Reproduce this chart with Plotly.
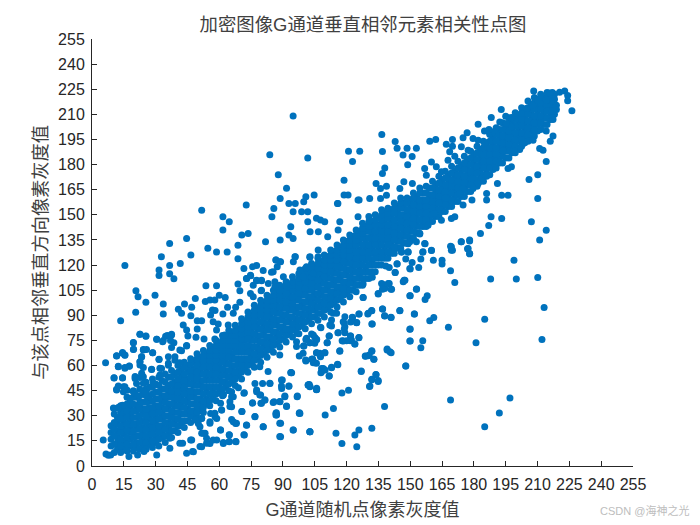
import plotly.graph_objects as go

title_text = "加密图像G通道垂直相邻元素相关性点图"
x_title = "G通道随机点像素灰度值"
y_title = "与该点相邻垂直方向像素灰度值"
watermark = "CSDN @海神之光"
tick_values = [0, 15, 30, 45, 60, 75, 90, 105, 120, 135, 150, 165, 180, 195, 210, 225, 240, 255]

# dense diagonal band, read column by column
band_x = [9, 12, 15, 18, 21, 24, 27, 30, 33, 36, 39, 42, 45, 48, 51, 54, 57, 60, 63, 66, 69, 72, 75, 78, 81, 84, 87, 90,
          93, 96, 99, 102, 105, 108, 111, 114, 117, 120, 123, 126, 129, 132, 135, 138, 141, 144, 147, 150, 153, 156,
          159, 162, 165, 168, 171, 174, 177, 180, 183, 186, 189, 192, 195, 198, 201, 204, 207, 210, 213, 216, 218]
band_y = [
    [12, 16, 20, 24], [10, 14, 17, 21, 25, 29], [11, 15, 19, 22, 26, 30, 34], [12, 16, 20, 23, 27, 31, 35, 38],
    [11, 14, 18, 22, 25, 29, 33, 36, 41], [12, 16, 20, 23, 27, 31, 34, 38, 43], [13, 17, 21, 24, 28, 32, 35, 39, 42, 47],
    [14, 18, 22, 25, 29, 33, 36, 40, 44, 49], [17, 21, 24, 28, 31, 35, 39, 42, 46, 51], [19, 23, 26, 30, 34, 37, 41, 45, 48, 53],
    [21, 25, 28, 32, 36, 39, 43, 47, 50, 55], [24, 27, 31, 35, 38, 42, 46, 49, 53, 57], [27, 31, 34, 38, 42, 45, 49, 52, 56, 60],
    [30, 33, 37, 41, 44, 48, 51, 55, 58, 62], [33, 37, 40, 44, 48, 51, 55, 58, 61, 65], [37, 40, 44, 47, 51, 54, 58, 61, 64, 67],
    [41, 44, 47, 51, 54, 58, 61, 64, 67, 70], [44, 47, 51, 54, 57, 61, 64, 67, 70, 73], [47, 50, 54, 57, 61, 64, 67, 70, 73, 76],
    [50, 54, 57, 60, 64, 67, 71, 74, 77, 79], [54, 57, 61, 64, 68, 71, 74, 77, 80, 82], [58, 61, 64, 68, 71, 75, 78, 81, 84, 86],
    [61, 65, 68, 71, 75, 78, 82, 85, 88, 90], [64, 68, 71, 75, 78, 82, 85, 89, 92, 94], [67, 71, 74, 78, 81, 85, 88, 92, 95, 97],
    [70, 74, 77, 81, 84, 88, 91, 95, 98, 100], [73, 77, 80, 84, 87, 91, 94, 98, 101, 103], [76, 80, 83, 87, 90, 94, 97, 101, 104, 106],
    [79, 82, 86, 89, 93, 96, 100, 103, 106, 108], [81, 85, 88, 92, 95, 99, 102, 105, 108, 110], [84, 88, 91, 95, 98, 102, 105, 108, 111, 113],
    [87, 91, 94, 98, 101, 105, 108, 111, 114, 117], [89, 93, 96, 100, 103, 107, 110, 113, 116, 119], [91, 95, 98, 102, 105, 109, 112, 115, 119, 122],
    [94, 98, 101, 105, 108, 112, 115, 118, 122, 125], [97, 101, 104, 108, 111, 115, 118, 121, 125, 128], [100, 104, 107, 111, 114, 118, 121, 124, 127, 130],
    [103, 107, 110, 114, 117, 121, 124, 127, 130, 134], [105, 109, 112, 116, 119, 123, 126, 130, 133, 137], [108, 112, 115, 119, 122, 126, 129, 133, 136, 140],
    [112, 116, 119, 123, 126, 130, 133, 136, 140, 143], [116, 120, 123, 127, 130, 134, 137, 140, 143, 146], [120, 124, 127, 131, 134, 138, 141, 144, 148],
    [124, 128, 131, 135, 138, 142, 145, 148, 151], [127, 131, 134, 138, 141, 145, 148, 150, 153], [130, 134, 137, 141, 144, 148, 151, 155],
    [133, 137, 140, 144, 147, 150, 154, 157], [136, 140, 143, 147, 150, 153, 156, 159], [139, 143, 146, 150, 153, 156, 158, 161],
    [143, 146, 150, 153, 156, 159, 163], [146, 149, 153, 156, 159, 162, 166], [149, 152, 156, 159, 162, 165, 168],
    [152, 155, 159, 162, 165, 168, 171], [155, 158, 162, 165, 168, 171, 174], [158, 161, 165, 168, 171, 174, 176],
    [161, 164, 168, 171, 174, 177, 179], [164, 168, 171, 174, 177, 180, 183], [167, 171, 174, 177, 180, 183, 186],
    [170, 174, 177, 180, 183, 186, 189], [173, 177, 180, 184, 187, 190, 193], [177, 181, 184, 188, 191, 194, 197],
    [181, 185, 188, 191, 195, 198, 201], [184, 188, 191, 195, 198, 201, 204], [187, 191, 194, 198, 201, 204, 207],
    [190, 194, 197, 200, 203, 206, 209], [193, 197, 200, 203, 206, 209, 212], [196, 200, 203, 207, 210, 213, 216],
    [200, 204, 207, 210, 214, 217, 219], [204, 208, 211, 214, 217, 220], [207, 211, 214, 217, 220, 222], [210, 213, 216, 219, 222],
]

# second reading of the band, between the columns above
fill_x = [10.5, 13.5, 16.5, 19.5, 22.5, 25.5, 28.5, 31.5, 34.5, 37.5, 40.5, 43.5, 46.5, 49.5, 52.5, 55.5, 58.5, 61.5, 64.5, 67.5,
          70.5, 73.5, 76.5, 79.5, 82.5, 85.5, 88.5, 91.5, 94.5, 97.5, 100.5, 103.5, 106.5, 109.5, 112.5, 115.5, 118.5, 121.5,
          124.5, 127.5, 130.5, 133.5, 136.5, 139.5, 142.5, 145.5, 148.5, 151.5, 154.5, 157.5, 160.5, 163.5, 166.5, 169.5,
          172.5, 175.5, 178.5, 181.5, 184.5, 187.5, 190.5, 193.5, 196.5, 199.5, 202.5, 205.5, 208.5, 211.5, 214.5, 217]
fill_y = [
    [8, 13, 18, 22, 26, 31], [8, 12, 16, 20, 24, 28, 32, 36], [9, 13, 17, 21, 25, 29, 33, 37, 41], [9, 13, 17, 21, 25, 29, 33, 37, 41, 45],
    [10, 14, 18, 22, 26, 30, 34, 38, 42, 46], [10, 14, 18, 22, 26, 30, 34, 38, 42, 46, 50], [11, 15, 19, 23, 27, 31, 35, 39, 43, 47, 52],
    [12, 16, 20, 24, 28, 32, 36, 40, 44, 48, 53], [14, 18, 22, 26, 30, 34, 38, 42, 46, 50, 55], [17, 21, 25, 29, 33, 37, 41, 45, 49, 53, 57],
    [20, 24, 28, 32, 36, 40, 44, 48, 52, 56, 60], [23, 27, 31, 35, 39, 43, 47, 51, 55, 59, 62], [26, 30, 33, 37, 41, 45, 49, 53, 57, 61, 64],
    [29, 32, 36, 40, 44, 48, 52, 56, 60, 64, 67], [32, 35, 39, 43, 47, 51, 55, 59, 63, 66, 69], [36, 39, 43, 47, 51, 55, 59, 63, 66, 69, 72],
    [39, 43, 47, 51, 55, 59, 63, 66, 69, 72, 75], [42, 46, 50, 54, 58, 62, 66, 69, 72, 75, 78], [45, 49, 53, 57, 61, 65, 69, 72, 75, 78, 81],
    [48, 52, 56, 60, 64, 68, 72, 75, 78, 81, 84], [52, 56, 60, 64, 68, 72, 76, 79, 82, 85, 88], [56, 60, 64, 68, 72, 76, 80, 83, 86, 89, 92],
    [59, 63, 67, 71, 75, 79, 83, 87, 90, 93, 96], [62, 66, 70, 74, 78, 82, 86, 90, 93, 96, 99], [65, 69, 73, 77, 81, 85, 89, 93, 96, 99, 102],
    [68, 72, 76, 80, 84, 88, 92, 96, 99, 102, 105], [71, 75, 79, 83, 87, 91, 95, 99, 102, 105, 108], [74, 78, 82, 86, 90, 94, 98, 102, 105, 108, 110],
    [77, 81, 85, 89, 93, 97, 101, 105, 108, 110, 113], [79, 83, 87, 91, 95, 99, 103, 107, 110, 112, 115], [82, 86, 90, 94, 98, 102, 106, 110, 113, 115, 118],
    [85, 89, 93, 97, 101, 105, 109, 113, 116, 119, 121], [87, 91, 95, 99, 103, 107, 111, 115, 118, 121, 124], [89, 93, 97, 101, 105, 109, 113, 117, 120, 123, 126],
    [92, 96, 100, 104, 108, 112, 116, 120, 123, 126, 129], [95, 99, 103, 107, 111, 115, 119, 123, 126, 129, 132], [98, 102, 106, 110, 114, 118, 122, 126, 129, 132, 135],
    [101, 105, 109, 113, 117, 121, 125, 129, 132, 135, 138], [104, 108, 112, 116, 120, 124, 128, 132, 135, 138, 141], [108, 112, 116, 120, 124, 128, 132, 136, 139, 142, 145],
    [112, 116, 120, 124, 128, 132, 136, 140, 143, 146, 149], [116, 120, 124, 128, 132, 136, 140, 144, 147, 150], [120, 124, 128, 132, 136, 140, 144, 147, 150, 153],
    [124, 128, 132, 136, 140, 144, 148, 151, 154], [127, 131, 135, 139, 143, 147, 151, 154, 157], [130, 134, 138, 142, 146, 150, 154, 157, 160],
    [133, 137, 141, 145, 149, 153, 157, 160], [136, 140, 144, 148, 152, 156, 160, 163], [139, 143, 147, 151, 155, 159, 163, 166],
    [143, 147, 151, 155, 159, 163, 167], [146, 150, 154, 158, 162, 166, 170], [149, 153, 157, 161, 165, 169, 173],
    [152, 156, 160, 164, 168, 172, 176], [155, 159, 163, 167, 171, 175, 179], [158, 162, 166, 170, 174, 178, 182],
    [161, 165, 169, 173, 177, 181, 185], [164, 168, 172, 176, 180, 184, 188], [167, 171, 175, 179, 183, 187, 191],
    [170, 174, 178, 182, 186, 190, 194], [174, 178, 182, 186, 190, 194, 198], [178, 182, 186, 190, 194, 198, 202],
    [181, 185, 189, 193, 197, 201, 205], [184, 188, 192, 196, 200, 204, 208], [187, 191, 195, 199, 203, 207, 211],
    [191, 195, 199, 203, 207, 211, 214], [194, 198, 202, 206, 210, 214, 218], [197, 201, 205, 209, 213, 217, 220],
    [201, 205, 209, 213, 217, 220, 222], [204, 208, 212, 216, 220, 223], [208, 212, 216, 220, 223],
]

# clumps along the band's edges at high grey levels
edge_x = [156.8, 160, 169.4, 169.4, 174.1, 178, 177.3, 178, 156, 145.9, 149,
          156.8, 157.6, 160, 162.3, 164.7, 167.8, 171, 168.6, 169.9, 174.1, 177.3, 179.6, 182, 185.1, 187.5, 189, 192.2, 195.3,
          197.7, 202.4, 204.7, 207.9, 210.2, 214.1, 218.9, 218.9,
          212.6, 211, 207.9, 203.2, 201.6, 199.2, 193.7, 197.7, 196.1, 192.2, 185.9, 183.5, 182, 179.6, 174.9, 173.3, 174.9,
          171, 169.4, 164.7, 161.5, 158.4, 154.5, 149.8]
edge_y = [132.9, 128.9, 130.9, 128.9, 133.9, 134.9, 129.9, 126.9, 127.9, 127.9, 127.9,
          177.7, 173.7, 181.6, 178.7, 175.7, 182.6, 185, 187.6, 191, 190.6, 188.6, 195.6, 194.6, 192.6, 198.6, 199.6, 205.5, 204.5,
          202.5, 210.5, 213.5, 215.5, 218.5, 218.5, 215.5, 212.9,
          188.6, 189.6, 194.6, 192.6, 189, 188, 188.2, 178.7, 177.7, 181.6, 173.7, 170.7, 168.7, 165.7, 165.7, 162.7, 155.8,
          148.8, 147.8, 146.8, 150.8, 143.8, 138.5, 133.9]

# clumps along the band's edges at low and middle grey levels
fringe_x = [85.4, 87.3, 88.9, 86.7, 86.2, 90.2, 91.7, 95.7, 94.9, 102.7, 106.6, 106.6, 72.9, 74.8, 77.6, 79.9, 76, 79.9, 83.1,
            86.2, 88.6, 91.7, 98, 101.1, 99.6, 104.3,
            127.8, 127.8, 134.9, 136.5, 140.1, 138, 141.2, 147.5, 146.7, 149.8, 153, 132.1, 142.9, 143.8, 138.5, 140.1, 149.8,
            125.8, 122.7, 121.9, 124.7, 119.2, 118.4, 119.2, 116.1, 119.2, 113.7, 112.9, 112.1, 115.3, 130.2, 131.8, 137, 138,
            140.9, 145.1, 151.9, 132.1, 107.9, 111.8, 110.9, 105.1, 103.5, 101.1, 102.7, 105.9, 99.9, 96.8, 96.4,
            125.8, 121.9, 122.3, 118.4, 123.9, 116.8, 105.9, 107.7, 109.8, 104, 105.1, 100.7, 97.7, 112.9, 109, 108.2, 115.7,
            111.8, 131.9, 130.7, 128.8, 132.9, 139.1, 141, 147.9, 126.9, 149.8, 149.8, 131.9, 133.8, 134.9, 131,
            101.9, 102.7, 105.9, 94.1,
            11.6, 14.4, 15.5, 12.4, 15.5, 17.6, 10.4, 14.4, 11.6, 14.8, 16.6, 19.5, 19.5, 22.6, 25.4, 24.2, 25.7, 28.6, 23.4,
            22.6, 24.2, 31.6, 30.5, 33.3, 34.7, 37.5, 38.6, 37.5, 42.2, 44.6, 36, 36, 39.1, 41.4, 32.8, 28.1, 20.3, 22.6, 24.2,
            21, 20.3, 25.7, 25, 10.4, 12.4, 14.4, 22.6,
            93.8, 89.7, 92.8, 89.4, 83.9, 80.4, 76.8, 102.4, 105.9, 96.8, 90.9, 88.6, 85.8, 81.5, 79.6, 91.7, 86.9, 87, 97.8,
            75.7, 71.8, 77.6, 79.5, 69, 61.9, 65.8, 66.6, 65, 65.8, 60.6, 61.1, 55.9, 58, 58.8, 55.6, 51.7, 50.9, 48.6,
            70.7, 76.8, 72.9, 80.7, 88.9, 94.9, 102.7, 88.9, 65.8, 67.7, 60.6, 64.7, 71.8, 67.9, 64.7, 61.9, 58.8, 55.6, 54,
            51.7, 53.3, 51.7, 47.8, 47, 50.1]
fringe_y = [116, 119, 122, 123, 110, 113, 109, 125, 122, 124.6, 129, 125, 112, 113.6, 111, 111, 108, 105, 109,
            107, 105, 103, 117, 119, 113, 115,
            108.7, 100.7, 103, 109, 109, 106, 105.5, 111, 110, 101.7, 105.7, 112.7, 115.6, 120.6, 119.4, 118.6, 118,
            90.8, 88.8, 86, 85.6, 89.2, 86.2, 83.2, 79.6, 79.6, 91.2, 87.2, 84.2, 91.2, 91.2, 92.8, 93.7, 89.6,
            88.8, 92.8, 90.8, 84.8, 82.6, 77.6, 73.6, 76.8, 78.8, 75.8, 73.6, 75.6, 71.7, 79.2, 74.2,
            76.6, 77.6, 75.2, 74.6, 72.9, 68.9, 67.7, 65.7, 67.7, 63.9, 61.7, 63.3, 65.7, 58.9, 58.3, 56.3, 60.7,
            53.7, 68.9, 66.3, 65.7, 63.7, 69.3, 67.7, 59.7, 56.7, 81.6, 74.6, 51.8, 54.7, 51, 47.8,
            48.4, 47.4, 46.4, 55.7,
            65.8, 67.8, 66.2, 59.6, 58.8, 59.6, 52.7, 52.7, 45.9, 47.3, 45.3, 73.6, 69.6, 78.7, 77.5, 69.6, 69.6, 67.6, 65.2,
            62.2, 58.8, 63.6, 75.7, 74.2, 77.5, 78.7, 73.6, 70.8, 68.8, 71.6, 65.2, 60.2, 63.2, 61.6, 58.2, 57.6, 52.3, 52.9, 53.3,
            49.3, 43.3, 45.3, 43.3, 34.4, 35, 36.3, 37.3,
            55.7, 51.3, 47.7, 46.3, 49.3, 49.3, 49.3, 48.7, 45.7, 41.8, 41.8, 38.4, 38.4, 39.4, 37.4, 35.8, 31.8, 30.4, 31.8,
            37.8, 43.8, 44.4, 42.4, 46.7, 42.4, 44.4, 41.4, 38.4, 35.4, 37.4, 33.4, 31.4, 29.4, 28.4, 26.4, 28.4, 23.4, 27.4,
            32.6, 29.4, 24.4, 23.5, 25.5, 21.5, 20.5, 17.5, 27.8, 25.4, 21.5, 18.5, 18.5, 14.5, 14.5, 13.5, 15.5, 13.5, 16.5,
            19.5, 19.5, 11.5, 8.5, 15.5, 25.4]

# scattered points above the band, low and middle grey levels
upper_x = [94.8, 83.8, 101.7, 120.9, 126.2, 122.8, 87.8, 118.8, 91.7, 88.7, 100.8, 104.7, 99.8, 95.8, 92.8, 85.7, 72.7, 51.7,
           61.7, 64.7, 84.8, 94.8, 98.8, 101.7, 118.8, 120.7, 115.7, 125.4, 125.4, 101.7, 105.8, 107.7, 109.7, 116.8, 93.7,
           61.7, 70.6, 73.6, 44.6, 36.6, 68.8, 81.8, 88.7, 92.8, 94.8, 102.8, 106.7, 111.1, 116, 54.6, 58.7, 63.7, 68.8,
           46.6, 32.7, 15.5, 36.6, 41.6, 31.6, 31.6, 36.6, 38.6, 53.7, 58.7, 20.7, 21.7, 29.7, 48.7,
           71.6, 75.7, 77.6, 80.7, 84.6, 86.7, 88.5, 95.8, 102.7, 72.8, 74.7, 77.6, 79.9, 68.8, 69.7, 74.7, 76, 79.7,
           25.4, 33.6, 33.6, 20.6, 13.5, 40.7, 42.2, 43.6, 47, 46.6, 49.6, 51.7, 53.4, 55.6, 57.9, 60, 62.8,
           56.8, 58, 61.7, 63.9, 69.7, 67.7, 66.6, 55.9, 57.1, 59.5, 58.7, 62.6, 64.2, 43, 44.6, 49.6, 45.2, 49, 52.8, 57.9,
           22.6, 25.4, 19.5, 19.6, 30.5, 33.6, 35.5, 37.5, 37, 44.6, 41.4, 39.1, 24.2, 23.4, 22.6, 28.6, 14.4, 15.5, 11.6,
           6.4, 12.4, 15.5, 17.6, 22.6, 23.4, 28.1, 32, 32, 31.6, 36, 10.4, 14.4, 20.3, 12.4, 15.5, 11.6, 14.8, 10.1, 12.4,
           17.9, 19.5, 25, 24.2, 28.9, 5.3, 6.6, 7.7, 8.8]
upper_y = [209, 185.9, 183.9, 187.9, 187.9, 181.9, 173.9, 170.7, 165.8, 159.8, 160.8, 161.8, 157.8, 156.8, 156.8, 153.8, 155.8, 152.8,
           148.8, 145.9, 148.8, 151.8, 151.8, 151.8, 161.8, 161.8, 156.8, 158.8, 148.8, 145.9, 147.9, 146.9, 145.9, 145.9, 142.9,
           140.9, 137.9, 138.9, 135.9, 132.9, 131.9, 133.9, 134.9, 137.9, 135.9, 139.9, 139.9, 136.9, 140.9, 130, 127.8, 127.8, 123.8,
           126, 125, 119.8, 119.8, 121, 117, 113.8, 114.8, 111.8, 107.7, 107.7, 104.7, 101, 101.9, 100,
           117.9, 119, 119.8, 116.7, 115.7, 123, 122, 125, 125, 112, 113.9, 110.7, 110.7, 108.7, 104.7, 103, 101, 104.7,
           97.8, 96.8, 90.8, 91.8, 86.8, 93.6, 91.2, 96.8, 94.8, 89.8, 86.8, 86.8, 98.2, 99.1, 99.1, 101.9, 100.7,
           93.2, 92.8, 90.8, 94.8, 97.8, 94.8, 91.2, 90.2, 86.2, 84.8, 81.2, 78.3, 84.2, 84.2, 81.2, 81.8, 77.7, 76.9, 75.9, 75.9,
           78.7, 77.7, 73.7, 69.7, 75.7, 74.9, 77.9, 78.3, 74.9, 71.9, 69.3, 65.3, 69.3, 65.3, 62.3, 67.7, 67.3, 66.3, 65.7,
           61.7, 59.3, 58.4, 59.7, 60.3, 55.4, 57.8, 58.4, 54.4, 63.7, 61.3, 52.6, 52.6, 53.4, 47.8, 47.4, 45.4, 44.4, 34.7, 34.7,
           40.4, 44.4, 44.4, 49.4, 49.4, 15.6, 7.2, 6.4, 6.6]

# scattered points above the band, high grey levels
top_x = [208.2, 215.7, 220.4, 222.8, 224.2, 224.2, 226.2, 192.9, 188.2, 195, 197.8, 182, 217.3, 214.1, 217.3, 216,
         136.6, 142.9, 143.8, 146.6, 148.5, 152.9, 150.9, 148.8, 136.9, 138, 136.9, 125.9, 115.9, 130.9, 133.9, 136, 138.8,
         147, 151, 145.1, 138.8, 136, 159.2, 162, 169.9, 167, 174.9, 176.8, 185, 187.1, 179.1]
top_y = [224, 222.8, 223.2, 224, 221.2, 218.1, 212.1, 212.9, 208.1, 208.9, 208.1, 204.1, 206.9, 200, 197, 194,
         198, 193.8, 189.8, 185.8, 189.8, 189.8, 184.8, 179.9, 187.8, 177.9, 174.7, 158.8, 156.8, 159.8, 168.7, 165.7, 167.1,
         169.7, 168.7, 165.7, 161.7, 159.8, 194, 195, 195, 192.2, 196, 199, 200, 201, 171.5]

# scattered points below the band, low and middle grey levels
lower_x = [17.4, 21.5, 24.5, 30.5, 44.6, 47.4, 50.9, 54, 57.1, 61.9, 64.7, 67.7, 36.7, 36.7, 41.4, 42.7, 46.5,
           60.6, 64.7, 71.6, 80.7, 94.8, 102.7, 88.5, 88.5, 72.8, 76.8, 70.6, 66.6, 68.1, 86.7, 86.7, 97.7, 91.7,
           75.7, 79.9, 81.5, 85.4, 88.5, 90.9, 96.7, 101.9, 105.8, 71.6, 79.1, 77.6, 83.8, 89.3, 92.8, 89.3, 93.7,
           55.6, 57.9, 61.1, 65, 65.8, 61.9, 52.4, 51.7, 101.1, 105, 107.4, 105.8, 99.5, 96.4, 83, 79.1, 88.5]
lower_y = [5.6, 6.6, 8.6, 6.6, 7.6, 8.6, 11.6, 13.6, 15.6, 14, 14.6, 14.6, 16.6, 10.6, 13.6, 13.6, 15.6,
           21.5, 18.6, 18.6, 23.5, 21.5, 20.5, 17.6, 25.5, 24.5, 29.5, 32.5, 26.5, 25.5, 31.5, 30.5, 31.5, 35.5,
           37.5, 37.5, 39.4, 37.9, 38.5, 41.4, 41.4, 48.4, 45.8, 43.4, 42.4, 45.4, 49.4, 51.4, 47.8, 47.8, 55.8,
           25.5, 31.5, 33.5, 35.5, 41.4, 42.8, 19.5, 28.5, 76.3, 73.3, 67.3, 61.3, 67.3, 71.3, 56.4, 59.3, 66.3]

# scattered points below the band, high grey levels
right_x = [198.9, 187.9, 200, 210.1, 213.1, 185.1, 212.1, 181, 168, 169, 197, 192, 185.1, 137.9, 131.9, 125.8, 123.9, 124.8,
           117.8, 115, 102.7, 109.9, 113.8, 98, 120.9, 117.8, 105.8, 102, 102.7, 126.9, 147.9, 130.8, 134.9, 133.9, 131.9,
           111.8, 107.9, 108.2, 109.9, 112.9, 115.9, 104.3, 103.5, 100.8, 107.7, 105.8, 109.7, 116.8, 128.9, 130.2, 132.8,
           131.9, 139.1, 140.4, 150, 150, 155.9, 155, 159.2, 161.1, 152, 145.1, 141, 137.9, 136.9, 131.9, 131.9, 130,
           125.8, 123.9, 121.8, 121.8, 120, 117.9, 115.9, 111.8, 110.8, 105.8, 104.3, 102.7, 100.8, 99.7, 107.7, 125.9,
           124.8, 122.8, 118.9, 118.9, 112.9, 127.8, 134.9, 136.9, 139.6, 141, 136.9, 152.9, 150, 158, 157, 147.1, 142.9,
           150, 154, 143.8, 150.9, 155, 147.9, 160.9, 165, 165, 169, 171, 155.9, 160, 145.9, 149, 157, 149, 152.9,
           169, 169.9, 174, 178, 177, 178, 211, 214.1, 210.1, 206, 210.1, 207.1, 214.1, 193.1, 196.1, 191.1, 186, 186,
           188.1, 193.1, 187, 183.1, 179.1]
right_y = [122.8, 111.6, 111.6, 112.6, 94.7, 87.7, 75.6, 73.6, 82.8, 39.4, 40.6, 31.6, 23.5, 35.6, 22.5, 21.5, 18.5, 11.5,
           13.5, 19.5, 20.5, 30.4, 34.4, 31.4, 45.3, 43.6, 45.5, 48.3, 47.7, 56.5, 59.7, 47.5, 50.5, 54.5, 51.5,
           53.7, 55.7, 58.3, 57.3, 58.7, 60.5, 61.7, 63.7, 62.7, 65.2, 67.6, 67.6, 68.6, 65.6, 65.8, 63.7,
           68.6, 69.8, 68.2, 74.6, 81.8, 74.8, 70.6, 86.7, 88.7, 90.7, 92.7, 88.7, 89.7, 93.7, 84.8, 92.7, 90.7,
           76.8, 72.8, 77.6, 74.8, 74.8, 74.8, 79.6, 77.6, 73.6, 75.6, 78.2, 73.6, 75.6, 71.6, 82.8, 90.7,
           85.7, 88.7, 85.2, 81.8, 83.6, 100.7, 102.7, 108.6, 109, 105.6, 105.6, 105.6, 101.7, 101.7, 99.5, 111, 115.6,
           117.6, 118.6, 120.8, 121.6, 123.6, 123.6, 122.8, 122.8, 120.6, 116.6, 109.6, 127.7, 128.7, 127.7, 127.7, 132.7, 132.7, 133.9,
           131.3, 128.9, 133.9, 134.3, 129.7, 126.7, 134.9, 181.8, 173.9, 171.1, 159.8, 145.8, 140.8, 161.7, 161.7, 168.7, 162.7, 158.8,
           148.8, 147.8, 143.6, 138.9, 158.8]

xs, ys = [], []
for col_x, col_y in ((band_x, band_y), (fill_x, fill_y)):
    for cx, col in zip(col_x, col_y):
        xs += [cx] * len(col)
        ys += col
for gx, gy in ((edge_x, edge_y), (fringe_x, fringe_y), (upper_x, upper_y), (top_x, top_y), (lower_x, lower_y), (right_x, right_y)):
    n = min(len(gx), len(gy))
    xs += gx[:n]
    ys += gy[:n]

FONT = "Liberation Sans, Arial, Noto Sans CJK SC, sans-serif"
AXIS = "#262626"
LABEL = "#404040"

fig = go.Figure(go.Scatter(x=xs, y=ys, mode="markers",
                           marker=dict(color="#0072BD", size=7, line=dict(width=0)),
                           hoverinfo="skip", showlegend=False))

axis_style = dict(range=[0, 255], tickmode="array", tickvals=tick_values, ticks="inside", ticklen=5, tickwidth=1,
                  tickcolor=AXIS, showline=True, linecolor=AXIS, linewidth=1, showgrid=False, zeroline=False,
                  mirror=False, automargin=False, tickfont=dict(family=FONT, size=16, color=AXIS))

fig.update_layout(
    width=692, height=517, autosize=False,
    margin=dict(l=84, r=67, t=31, b=59),
    paper_bgcolor="white", plot_bgcolor="white",
    title=dict(text=title_text, x=355 / 692, y=1 - 17 / 517, xanchor="center", yanchor="middle",
               font=dict(family=FONT, size=18.4, color=LABEL)),
    xaxis=dict(axis_style, ticklabelstandoff=4,
               title=dict(text=x_title, standoff=11, font=dict(family=FONT, size=18, color=LABEL))),
    yaxis=dict(axis_style, ticklabelstandoff=3,
               title=dict(text=y_title, standoff=5, font=dict(family=FONT, size=18.2, color=LABEL))),
    annotations=[dict(text=watermark, xref="paper", yref="paper", x=(691 - 92) / 541, y=(466 - 511) / 427,
                      xanchor="right", yanchor="middle", showarrow=False,
                      font=dict(family=FONT, size=11, color="#bdbdbd"))],
)

fig.write_html("out.html")
